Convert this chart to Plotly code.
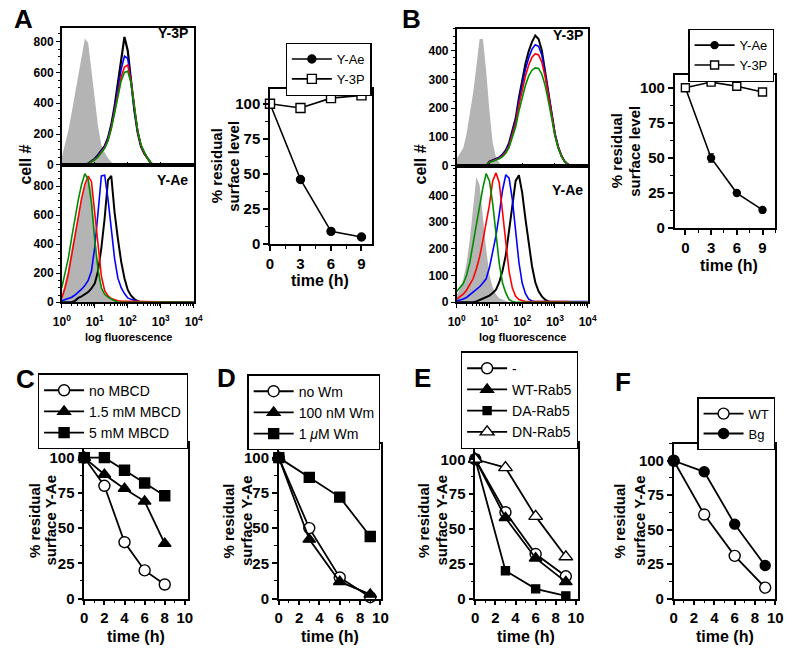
import plotly.graph_objects as go

# ---------------- data ----------------
# flow-cytometry histograms: x = log10 fluorescence (decades), y = cell #
FL_DECADES = [0.0, 0.1, 0.2, 0.3, 0.4, 0.5, 0.6, 0.7, 0.8, 0.9,
              1.0, 1.1, 1.2, 1.3, 1.4, 1.5, 1.6, 1.7, 1.8, 1.9,
              2.0, 2.1, 2.2, 2.3, 2.4, 2.5, 2.6, 2.7, 2.8, 2.9,
              3.0, 3.1, 3.2, 3.3, 3.4, 3.5, 3.6, 3.7, 3.8, 3.9,
              4.0]

# Panel A, Y-3P
A3P_GRAY = [50, 130, 225, 340, 465, 580, 695, 820, 790, 615,
            430, 250, 130, 80, 45, 20, 5, 0, 0, 0,
            0, 0, 0, 0, 0, 0, 0, 0, 0, 0,
            0, 0, 0, 0, 0, 0, 0, 0, 0, 0, 0]
A3P_BLACK = [0, 0, 0, 0, 0, 0, 0, 0, 10, 25,
             40, 65, 95, 122, 175, 260, 380, 515, 680, 830,
             740, 545, 355, 210, 120, 75, 40, 12, 0, 0,
             0, 0, 0, 0, 0, 0, 0, 0, 0, 0, 0]
A3P_BLUE = [0, 0, 0, 0, 0, 0, 0, 0, 9, 23,
            38, 60, 90, 118, 170, 252, 365, 490, 620, 705,
            690, 540, 355, 215, 125, 75, 40, 12, 0, 0,
            0, 0, 0, 0, 0, 0, 0, 0, 0, 0, 0]
A3P_RED = [0, 0, 0, 0, 0, 0, 0, 0, 8, 21,
           35, 55, 85, 112, 160, 240, 345, 460, 570, 635,
           648, 540, 360, 220, 128, 78, 42, 14, 0, 0,
           0, 0, 0, 0, 0, 0, 0, 0, 0, 0, 0]
A3P_GREEN = [0, 0, 0, 0, 0, 0, 0, 0, 8, 20,
             33, 52, 80, 108, 155, 232, 335, 445, 545, 600,
             608, 530, 360, 222, 130, 80, 42, 14, 0, 0,
             0, 0, 0, 0, 0, 0, 0, 0, 0, 0, 0]

# Panel A, Y-Ae
AAE_GRAY = [40, 140, 240, 375, 495, 610, 715, 795, 855, 780,
            480, 245, 110, 55, 38, 25, 8, 0, 0, 0,
            0, 0, 0, 0, 0, 0, 0, 0, 0, 0,
            0, 0, 0, 0, 0, 0, 0, 0, 0, 0, 0]
AAE_BLACK = [0, 0, 0, 0, 10, 30, 40, 55, 70, 95,
             130, 215, 375, 580, 840, 870, 620, 438, 280, 166,
             85, 45, 22, 8, 0, 0, 0, 0, 0, 0,
             0, 0, 0, 0, 0, 0, 0, 0, 0, 0, 0]
AAE_BLUE = [10, 18, 26, 35, 50, 68, 90, 115, 150, 215,
            380, 620, 870, 875, 711, 507, 302, 166, 100, 60,
            30, 20, 12, 6, 0, 0, 0, 0, 0, 0,
            0, 0, 0, 0, 0, 0, 0, 0, 0, 0, 0]
AAE_RED = [30, 100, 195, 320, 455, 590, 715, 810, 868, 830,
           620, 375, 180, 80, 45, 25, 15, 10, 8, 8,
           7, 7, 6, 6, 5, 5, 4, 4, 3, 3,
           2, 0, 0, 0, 0, 0, 0, 0, 0, 0, 0]
AAE_GREEN = [100, 200, 305, 445, 580, 705, 810, 885, 845, 680,
             425, 225, 100, 55, 35, 20, 10, 0, 0, 0,
             0, 0, 0, 0, 0, 0, 0, 0, 0, 0,
             0, 0, 0, 0, 0, 0, 0, 0, 0, 0, 0]

# Panel B, Y-3P
B3P_GRAY = [25, 44, 62, 110, 180, 252, 345, 440, 440, 330,
            190, 80, 30, 10, 0, 0, 0, 0, 0, 0,
            0, 0, 0, 0, 0, 0, 0, 0, 0, 0,
            0, 0, 0, 0, 0, 0, 0, 0, 0, 0, 0]
B3P_BLACK = [0, 0, 0, 0, 0, 0, 0, 0, 0, 0,
             15, 20, 25, 30, 40, 55, 80, 120, 165, 237,
             300, 355, 398, 430, 452, 440, 400, 329, 250, 180,
             110, 65, 35, 15, 5, 0, 0, 0, 0, 0, 0]
B3P_BLUE = [0, 0, 0, 0, 0, 0, 0, 0, 0, 0,
            14, 19, 24, 29, 38, 52, 76, 114, 158, 225,
            285, 335, 375, 405, 420, 415, 385, 325, 252, 182,
            112, 66, 36, 15, 5, 0, 0, 0, 0, 0, 0]
B3P_RED = [0, 0, 0, 0, 0, 0, 0, 0, 0, 0,
           13, 18, 22, 27, 35, 48, 70, 105, 148, 210,
           265, 312, 350, 377, 389, 385, 360, 310, 245, 178,
           110, 65, 35, 15, 5, 0, 0, 0, 0, 0, 0]
B3P_GREEN = [0, 0, 0, 0, 0, 0, 0, 0, 0, 0,
             12, 16, 20, 25, 32, 44, 64, 96, 135, 190,
             238, 280, 312, 332, 340, 338, 318, 280, 225, 165,
             105, 62, 33, 14, 5, 0, 0, 0, 0, 0, 0]

# Panel B, Y-Ae
BAE_GRAY = [25, 50, 85, 145, 235, 345, 470, 440, 310, 200,
            102, 55, 30, 15, 10, 5, 0, 0, 0, 0,
            0, 0, 0, 0, 0, 0, 0, 0, 0, 0,
            0, 0, 0, 0, 0, 0, 0, 0, 0, 0, 0]
BAE_BLACK = [0, 0, 0, 0, 0, 0, 3, 8, 12, 18,
             25, 35, 47, 75, 118, 177, 270, 365, 455, 476,
             411, 312, 220, 135, 75, 41, 22, 10, 3, 0,
             0, 0, 0, 0, 0, 0, 0, 0, 0, 0, 0]
BAE_BLUE = [5, 8, 12, 18, 28, 38, 48, 58, 72, 88,
            130, 185, 250, 330, 420, 478, 465, 385, 265, 150,
            72, 32, 12, 5, 3, 3, 3, 3, 3, 3,
            3, 3, 3, 3, 3, 3, 3, 3, 3, 3, 3]
BAE_RED = [12, 20, 30, 45, 65, 88, 125, 170, 232, 295,
           365, 455, 485, 448, 337, 214, 115, 53, 22, 10,
           5, 3, 3, 3, 3, 3, 3, 3, 3, 3,
           3, 3, 3, 3, 3, 0, 0, 0, 0, 0, 0]
BAE_GREEN = [40, 55, 70, 100, 150, 220, 295, 370, 430, 482,
             455, 370, 250, 145, 72, 35, 10, 3, 0, 0,
             0, 0, 0, 0, 0, 0, 0, 0, 0, 0,
             0, 0, 0, 0, 0, 0, 0, 0, 0, 0, 0]

# time-course panels (% residual surface level)
A_TIME = [0, 3, 6, 9]
A_YAE = [100, 46, 9, 5]
A_Y3P = [100, 97, 104, 106]

B_TIME = [0, 3, 6, 9]
B_YAE = [100, 50, 25, 13]
B_YAE_ERR = [0, 3, 1, 1]
B_Y3P = [100, 104, 101, 97]

C_TIME = [0, 2, 4, 6, 8]
C_NO_MBCD = [100, 80, 40, 20, 10]
C_15_MBCD = [100, 88, 78, 69, 39]
C_5_MBCD = [100, 100, 91, 82, 73]

D_TIME = [0, 3, 6, 9]
D_NO_WM = [100, 50, 15, 1]
D_100NM_WM = [100, 42, 12, 3]
D_1UM_WM = [100, 86, 72, 44]

E_TIME = [0, 3, 6, 9]
E_NONE = [100, 62, 32, 16]
E_WT_RAB5 = [100, 58, 29, 12]
E_DA_RAB5 = [100, 20, 7, 2]
E_DN_RAB5 = [100, 94, 59, 30]

F_TIME = [0, 3, 6, 9]
F_WT = [100, 61, 31, 8]
F_BG = [100, 92, 54, 24]

# ---------------- styling helpers ----------------
W, H = 800, 656
FONT = "Liberation Sans, Arial, Helvetica, sans-serif"
GRAY = "#b4b4b4"
BLUE = "#0000ff"
RED = "#ff0000"
GREEN = "#008c00"


def xd(a, b):
    return [a / W, b / W]


def yd(top, bottom):
    return [1 - bottom / H, 1 - top / H]


def px(x):
    return x / W


def py(y):
    return 1 - y / H


fig = go.Figure()
fl = [10 ** d for d in FL_DECADES]


def hist(xa, ya, gray, curves):
    fig.add_trace(go.Scatter(x=fl, y=gray, xaxis=xa, yaxis=ya, mode="lines",
                             line=dict(width=0, color=GRAY), fill="tozeroy",
                             fillcolor=GRAY, showlegend=False, hoverinfo="skip"))
    for vals, col, w in curves:
        fig.add_trace(go.Scatter(x=fl, y=vals, xaxis=xa, yaxis=ya, mode="lines",
                                 line=dict(color=col, width=w),
                                 showlegend=False, hoverinfo="skip"))


hist("x", "y", A3P_GRAY, [(A3P_BLACK, "black", 2.2), (A3P_BLUE, BLUE, 1.6),
                          (A3P_RED, RED, 1.6), (A3P_GREEN, GREEN, 1.6)])
hist("x2", "y2", AAE_GRAY, [(AAE_BLACK, "black", 2.0), (AAE_BLUE, BLUE, 1.6),
                            (AAE_RED, RED, 1.6), (AAE_GREEN, GREEN, 1.6)])
hist("x4", "y4", B3P_GRAY, [(B3P_BLACK, "black", 2.0), (B3P_BLUE, BLUE, 1.6),
                            (B3P_RED, RED, 1.6), (B3P_GREEN, GREEN, 1.6)])
hist("x5", "y5", BAE_GRAY, [(BAE_BLACK, "black", 2.0), (BAE_BLUE, BLUE, 1.6),
                            (BAE_RED, RED, 1.6), (BAE_GREEN, GREEN, 1.6)])


def series(xa, ya, leg, name, t, v, symbol, size, fill, err=None, lw=1.8):
    kw = {}
    if err is not None:
        kw["error_y"] = dict(type="data", array=err, visible=True,
                             color="black", thickness=1.2, width=3)
    fig.add_trace(go.Scatter(x=t, y=v, xaxis=xa, yaxis=ya, name=name, legend=leg,
                             mode="lines+markers",
                             line=dict(color="black", width=lw),
                             marker=dict(symbol=symbol, size=size, color=fill,
                                         line=dict(color="black", width=1.4)),
                             cliponaxis=False, hoverinfo="skip", **kw))


series("x3", "y3", "legend", "Y-Ae", A_TIME, A_YAE, "circle", 8, "black", lw=1.6)
series("x3", "y3", "legend", "Y-3P", A_TIME, A_Y3P, "square", 9, "white", lw=1.6)

series("x6", "y6", "legend2", "Y-Ae", B_TIME, B_YAE, "circle", 7, "black", err=B_YAE_ERR, lw=1.6)
series("x6", "y6", "legend2", "Y-3P", B_TIME, B_Y3P, "square", 8, "white", lw=1.6)

series("x7", "y7", "legend3", "no MBCD", C_TIME, C_NO_MBCD, "circle", 11, "white")
series("x7", "y7", "legend3", "1.5 mM MBCD", C_TIME, C_15_MBCD, "triangle-up", 11, "black")
series("x7", "y7", "legend3", "5 mM MBCD", C_TIME, C_5_MBCD, "square", 10, "black")

series("x8", "y8", "legend4", "no Wm", D_TIME, D_NO_WM, "circle", 11, "white")
series("x8", "y8", "legend4", "100 nM Wm", D_TIME, D_100NM_WM, "triangle-up", 11, "black")
series("x8", "y8", "legend4", "1 <i>μ</i>M Wm", D_TIME, D_1UM_WM, "square", 10, "black")

series("x9", "y9", "legend5", "-", E_TIME, E_NONE, "circle", 11, "white")
series("x9", "y9", "legend5", "WT-Rab5", E_TIME, E_WT_RAB5, "triangle-up", 11, "black")
series("x9", "y9", "legend5", "DA-Rab5", E_TIME, E_DA_RAB5, "square", 8, "black")
series("x9", "y9", "legend5", "DN-Rab5", E_TIME, E_DN_RAB5, "triangle-up", 12, "white")

series("x10", "y10", "legend6", "WT", F_TIME, F_WT, "circle", 11, "white")
series("x10", "y10", "legend6", "Bg", F_TIME, F_BG, "circle", 10, "black")

# ---------------- axes ----------------
LOG_MINOR = [m * 10 ** k for k in range(4) for m in range(2, 10)]


def hist_x(dom, anchor, labels):
    d = dict(type="log", range=[0, 4], domain=dom, anchor=anchor, showline=True,
             mirror=True, linecolor="black", linewidth=1.5, showgrid=False,
             zeroline=False, tickmode="array", tickvals=[1, 10, 100, 1000, 10000])
    if labels:
        d.update(ticks="outside", ticklen=4, tickwidth=1.2, tickcolor="black",
                 ticklabelstandoff=4,
                 ticktext=["10<sup>0</sup>", "10<sup>1</sup>", "10<sup>2</sup>",
                           "10<sup>3</sup>", "10<sup>4</sup>"],
                 tickfont=dict(family=FONT, size=12, color="black", weight="bold"),
                 minor=dict(tickmode="array", tickvals=LOG_MINOR, ticks="outside",
                            ticklen=2, tickcolor="black", tickwidth=1))
    else:
        d.update(ticks="inside", ticklen=3, tickcolor="black", showticklabels=False,
                 minor=dict(tickmode="array", tickvals=LOG_MINOR, ticks="inside",
                            ticklen=2, tickcolor="black", tickwidth=1))
    return d


def hist_y(dom, anchor, ymax, tickvals, minor):
    return dict(domain=dom, anchor=anchor, range=[0, ymax], showline=True,
                mirror=True, linecolor="black", linewidth=1.5, showgrid=False,
                zeroline=False, ticks="outside", ticklen=4, tickwidth=1.2,
                tickcolor="black", tickmode="array", tickvals=tickvals,
                tickfont=dict(family=FONT, size=12, color="black", weight="bold"),
                minor=dict(dtick=minor, tick0=0, ticks="outside", ticklen=2,
                           tickcolor="black", tickwidth=1))


def line_x(dom, anchor, rng, dtick, minor):
    return dict(domain=dom, anchor=anchor, range=rng, showline=True, mirror=True,
                linecolor="black", linewidth=1.5, showgrid=False, zeroline=False,
                ticks="outside", ticklen=5, tickwidth=1.5, tickcolor="black",
                dtick=dtick, tick0=0,
                tickfont=dict(family=FONT, size=15, color="black", weight="bold"),
                minor=dict(dtick=minor, ticks="outside", ticklen=3,
                           tickcolor="black", tickwidth=1.2))


def line_y(dom, anchor, ymax):
    return dict(domain=dom, anchor=anchor, range=[0, ymax], showline=True,
                mirror=True, linecolor="black", linewidth=1.5, showgrid=False,
                zeroline=False, ticks="outside", ticklen=5, tickwidth=1.5,
                tickcolor="black", dtick=25, tick0=0,
                tickfont=dict(family=FONT, size=15, color="black", weight="bold"),
                minor=dict(dtick=12.5, ticks="outside", ticklen=3,
                           tickcolor="black", tickwidth=1.2))


TICKS_800 = [0, 200, 400, 600, 800]
TICKS_400 = [0, 100, 200, 300, 400]

layout = dict(
    width=W, height=H, autosize=False,
    margin=dict(l=0, r=0, t=0, b=0),
    paper_bgcolor="white", plot_bgcolor="white",
    font=dict(family=FONT, color="black"),
    xaxis=hist_x(xd(54, 189), "y", False),
    yaxis=hist_y(yd(28, 167), "x", 890, TICKS_800, 50),
    xaxis2=hist_x(xd(54, 189), "y2", True),
    yaxis2=hist_y(yd(167, 306), "x2", 945, TICKS_800, 50),
    xaxis3=line_x(xd(267, 371), "y3", [0, 10], 3, 1.5),
    yaxis3=line_y(yd(90, 247), "x3", 110.6),
    xaxis4=hist_x(xd(458, 592), "y4", False),
    yaxis4=hist_y(yd(29, 168), "x4", 476, TICKS_400, 25),
    xaxis5=hist_x(xd(458, 592), "y5", True),
    yaxis5=hist_y(yd(168, 306), "x5", 511, TICKS_400, 25),
    xaxis6=line_x(xd(681, 784), "y6", [-1.25, 10.5], 3, 1.5),
    yaxis6=line_y(yd(76, 231), "x6", 109),
    xaxis7=line_x(xd(77, 183), "y7", [0, 10.3], 2, 1),
    yaxis7=line_y(yd(448, 606), "x7", 110.7),
    xaxis8=line_x(xd(276, 381), "y8", [0, 10.1], 2, 1),
    yaxis8=line_y(yd(449, 606), "x8", 110),
    xaxis9=line_x(xd(477, 582), "y9", [0, 10.2], 2, 1),
    yaxis9=line_y(yd(448, 606), "x9", 112),
    xaxis10=line_x(xd(680, 784), "y10", [0, 10], 2, 1),
    yaxis10=line_y(yd(449, 606), "x10", 112.5),
)


def legend(xright, plot_top, size):
    # legend box sits on top of the plot frame, right-aligned with it
    return dict(x=px(xright), y=py(plot_top + 7), xanchor="right", yanchor="bottom",
                bgcolor="white", bordercolor="black", borderwidth=1.2,
                font=dict(family=FONT, size=size, color="black"),
                itemwidth=40, tracegroupgap=0,
                itemclick=False, itemdoubleclick=False)


layout["legend"] = legend(371, 90, 13)
layout["legend2"] = legend(783, 76, 13)
layout["legend3"] = legend(183, 448, 14)
layout["legend4"] = legend(380, 449, 14)
layout["legend5"] = legend(582, 448, 14)
layout["legend6"] = legend(784, 449, 13)

fig.update_layout(**layout)

# ---------------- text ----------------
ann = []


def text(x, y, s, size, angle=0, bold=True, xanchor="center"):
    ann.append(dict(x=px(x), y=py(y), xref="paper", yref="paper", text=s,
                    showarrow=False, xanchor=xanchor, yanchor="middle",
                    textangle=angle,
                    font=dict(family=FONT, size=size, color="black",
                              weight="bold" if bold else "normal")))


for letter, x, y in [("A", 15, 19), ("B", 412, 19), ("C", 17, 384),
                     ("D", 223, 383), ("E", 423, 383), ("F", 628, 387)]:
    text(x, y, letter, 26)

text(185, 33, "Y-3P", 14, xanchor="right")
text(185, 182, "Y-Ae", 14, xanchor="right")
text(589, 35, "Y-3P", 14, xanchor="right")
text(589, 192, "Y-Ae", 14, xanchor="right")

text(17, 167, "cell #", 16, angle=-90)
text(421, 167, "cell #", 16, angle=-90)
text(122, 341, "log fluorescence", 11)
text(525, 341, "log fluorescence", 11)

for x1, x2, yc, second in [(213, 230, 168, "surface level"),
                           (621, 640, 153, "surface level"),
                           (26, 43, 527, "surface Y-Ae"),
                           (225, 243, 527, "surface Y-Ae"),
                           (424, 443, 527, "surface Y-Ae"),
                           (625, 645, 527, "surface Y-Ae")]:
    text(x1, yc, "% residual", 15, angle=-90)
    text(x2, yc, second, 15, angle=-90)

for x, y in [(318, 284), (737, 269), (130, 644), (328, 644), (529, 644), (732, 644)]:
    text(x, y, "time (h)", 16)

fig.update_layout(annotations=ann)
fig.write_html("out.html",
               config={"displayModeBar": False, "staticPlot": False},
               post_script="document.body.style.margin='0px';"
                           "document.body.style.padding='0px';")
